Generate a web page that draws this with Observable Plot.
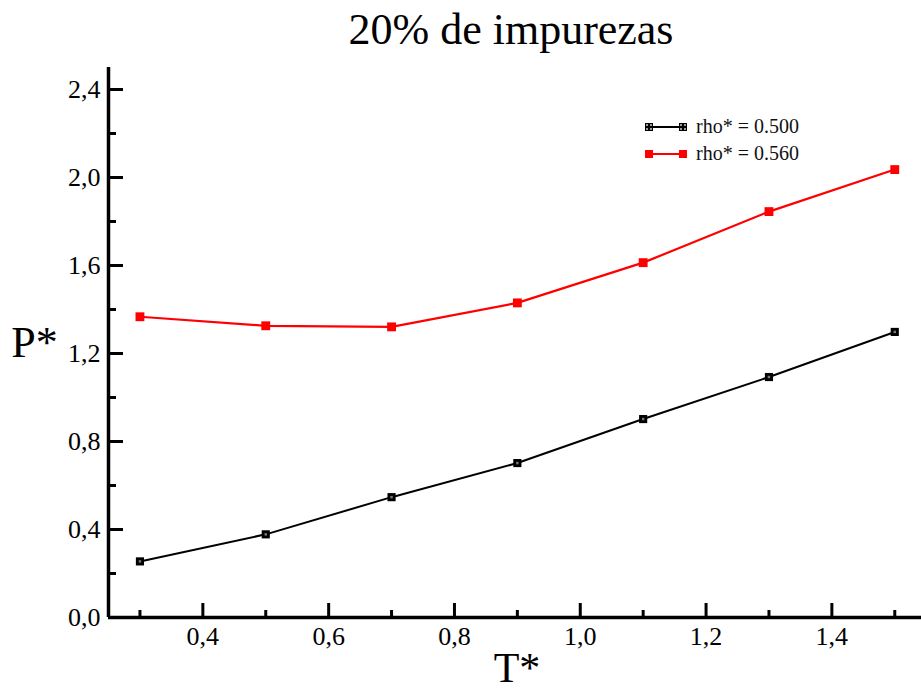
<!DOCTYPE html>
<html>
<head>
<meta charset="utf-8">
<script src="https://cdn.jsdelivr.net/npm/d3@7"></script>
<script src="https://cdn.jsdelivr.net/npm/@observablehq/plot@0.6"></script>
<style>
  body { margin: 0; background: #fff; }
  #wrap { position: relative; width: 921px; height: 691px; font-family: "Liberation Serif", "Times New Roman", "DejaVu Serif", serif; }
  #wrap svg, #wrap svg text, #wrap svg g { font-family: "Liberation Serif", "Times New Roman", "DejaVu Serif", serif !important; }
  #legend { position: absolute; left: 645px; top: 113px; font-size: 20px; line-height: 27px; color: #111; }
  .row { display: flex; align-items: center; height: 27px; }
  .sw { position: relative; width: 42px; height: 10px; margin-right: 9px; }
  .sw .ln { position: absolute; left: 3px; right: 3px; top: 4px; height: 2px; }
  .sw .mk { position: absolute; top: 1px; width: 8px; height: 8px; }
</style>
</head>
<body>
<div id="wrap"></div>
<script>
const T = [0.3, 0.5, 0.7, 0.9, 1.1, 1.3, 1.5];
const P_rho500 = [0.255, 0.378, 0.547, 0.702, 0.902, 1.093, 1.298];
const P_rho560 = [1.367, 1.326, 1.321, 1.430, 1.613, 1.845, 2.036];
const seriesNames = ["rho* = 0.500", "rho* = 0.560"];
const seriesColors = ["#000000", "#ff0000"];
const xMajor = [0.4, 0.6, 0.8, 1.0, 1.2, 1.4];
const xMinor = [0.3, 0.5, 0.7, 0.9, 1.1, 1.3, 1.5];
const yMajor = [0.0, 0.4, 0.8, 1.2, 1.6, 2.0, 2.4];
const yMinor = [0.2, 0.6, 1.0, 1.4, 1.8, 2.2];
const title = "20% de impurezas";
const xLabel = "T*";
const yLabel = "P*";

const data = [];
T.forEach((t, i) => {
  data.push({T: t, P: P_rho500[i], s: seriesNames[0]});
  data.push({T: t, P: P_rho560[i], s: seriesNames[1]});
});
const fmt = d => d.toFixed(1).replace(".", ",");
const black = data.filter(d => d.s === seriesNames[0]);
const red = data.filter(d => d.s === seriesNames[1]);

const W = 921, H = 691, ML = 108, MR = 0, MT = 67, MB = 74;
const FW = W - ML - MR, FH = H - MT - MB;
const serif = "Liberation Serif, Times New Roman, DejaVu Serif, serif";

const chart = Plot.plot({
  width: W,
  height: H,
  marginLeft: ML,
  marginRight: MR,
  marginTop: MT,
  marginBottom: MB,
  style: {fontFamily: serif, background: "#fff", color: "#000"},
  x: {domain: [0.25, 1.5425]},
  y: {domain: [0, 2.5]},
  marks: [
    // tick labels
    Plot.axisX(xMajor, {tickSize: 0, tickPadding: 9, tickFormat: fmt, fontSize: 26, fontFamily: serif, label: null}),
    Plot.axisY(yMajor, {tickSize: 0, tickPadding: 8, tickFormat: fmt, fontSize: 26, fontFamily: serif, label: null}),
    // inward ticks
    Plot.tickX(xMajor, {x: d => d, insetTop: FH - 14, strokeWidth: 3, stroke: "#000"}),
    Plot.tickX(xMinor, {x: d => d, insetTop: FH - 7, strokeWidth: 3, stroke: "#000"}),
    Plot.tickY(yMajor, {y: d => d, insetRight: FW - 15, strokeWidth: 3, stroke: "#000"}),
    Plot.tickY(yMinor, {y: d => d, insetRight: FW - 8, strokeWidth: 3, stroke: "#000"}),
    // axis lines
    Plot.ruleY([0], {strokeWidth: 3.5}),
    Plot.ruleX([0.25], {strokeWidth: 3.5}),
    // series
    Plot.line(black, {x: "T", y: "P", stroke: seriesColors[0], strokeWidth: 2}),
    Plot.line(red, {x: "T", y: "P", stroke: seriesColors[1], strokeWidth: 2.2}),
    Plot.dot(black, {x: "T", y: "P", symbol: "square", r: 4.6, fill: seriesColors[0], stroke: "none"}),
    Plot.dot(black, {x: "T", y: "P", symbol: "square", r: 1.4, fill: "#777", stroke: "none"}),
    Plot.dot(red, {x: "T", y: "P", symbol: "square", r: 5, fill: seriesColors[1], stroke: "none"}),
    // titles
    Plot.text([title], {frameAnchor: "top", lineAnchor: "top", textAnchor: "middle", dx: -4, dy: -55, fontSize: 44, fontFamily: serif, fill: "#000"}),
    Plot.text([yLabel], {frameAnchor: "left", lineAnchor: "middle", textAnchor: "middle", dx: -74, dy: 0, fontSize: 44, fontFamily: serif, fill: "#000"}),
    Plot.text([xLabel], {frameAnchor: "bottom", lineAnchor: "bottom", textAnchor: "middle", dx: 2, dy: 64, fontSize: 42, fontFamily: serif, fill: "#000"})
  ]
});
const wrap = document.getElementById("wrap");
wrap.appendChild(chart);

const legend = document.createElement("div");
legend.id = "legend";
seriesNames.forEach((name, i) => {
  const row = document.createElement("div");
  row.className = "row";
  const c = seriesColors[i];
  const inner = i === 0 ? "background:#000;background-image: radial-gradient(#999 1px, transparent 1.2px); background-size:4px 4px;" : `background:${c};`;
  row.innerHTML = `<div class="sw"><div class="ln" style="background:${c}"></div><div class="mk" style="left:0;${inner}"></div><div class="mk" style="right:0;${inner}"></div></div><span>${name}</span>`;
  legend.appendChild(row);
});
wrap.appendChild(legend);
</script>
</body>
</html>
